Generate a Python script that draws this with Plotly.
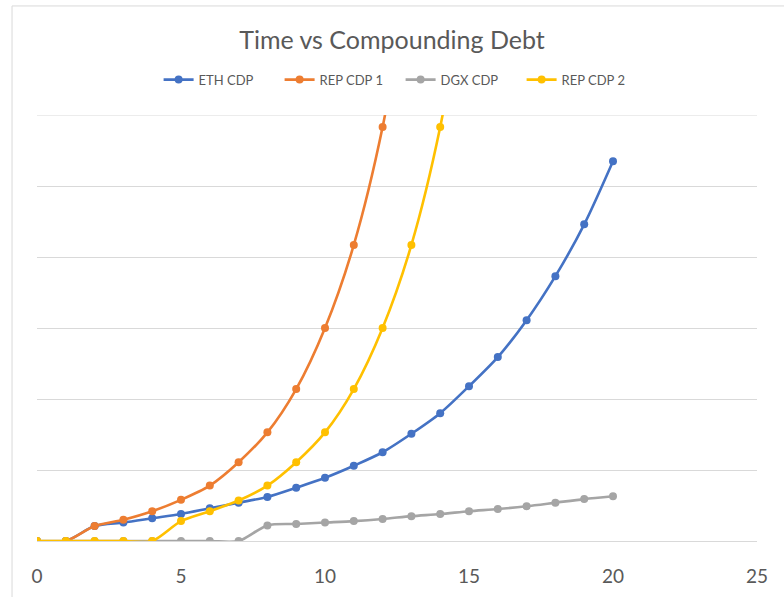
import plotly.graph_objects as go

years = list(range(0, 21))
eth_cdp = [0, 0, 0.21, 0.26, 0.32, 0.38, 0.46, 0.54, 0.62, 0.75, 0.89, 1.06, 1.25,
           1.51, 1.80, 2.18, 2.59, 3.11, 3.73, 4.46, 5.35]
rep1_x = list(range(0, 14))
rep_cdp_1 = [0, 0, 0.21, 0.30, 0.42, 0.58, 0.78, 1.11, 1.53, 2.14, 3.00, 4.17, 5.83, 8.2]
dgx_cdp = [0, 0, 0, 0, 0, 0, 0, 0, 0.22, 0.24, 0.26, 0.28, 0.31, 0.35, 0.38, 0.42,
           0.45, 0.49, 0.54, 0.59, 0.63]
rep2_x = list(range(0, 16))
rep_cdp_2 = [0, 0, 0, 0, 0, 0.28, 0.42, 0.57, 0.78, 1.11, 1.53, 2.14, 3.00, 4.17, 5.83, 8.2]

x_ticks = [0, 5, 10, 15, 20, 25]
y_max = 6

series = [
    ("ETH CDP", years, eth_cdp, "#4472C4"),
    ("REP CDP 1", rep1_x, rep_cdp_1, "#ED7D31"),
    ("DGX CDP", years, dgx_cdp, "#A5A5A5"),
    ("REP CDP 2", rep2_x, rep_cdp_2, "#FFC000"),
]

fig = go.Figure()
for name, xs, ys, col in series:
    fig.add_trace(go.Scatter(
        x=xs, y=ys, name=name, mode="lines+markers",
        line=dict(color=col, width=2.6, shape="spline", smoothing=0.8),
        marker=dict(color=col, size=8, symbol="circle"),
    ))

fig.update_layout(
    width=784, height=597,
    margin=dict(l=37, r=27, t=115, b=56),
    paper_bgcolor="white", plot_bgcolor="white",
    font=dict(family="Lato, Open Sans, sans-serif", color="#595959"),
    title=dict(text="Time vs Compounding Debt", x=0.5, xanchor="center",
               y=0.933, yanchor="middle",
               font=dict(size=25, color="#595959", family="Lato, sans-serif")),
    legend=dict(orientation="h", x=0.505, xanchor="center", y=1.083, yanchor="middle",
                font=dict(size=13, color="#595959"), itemwidth=30,
                entrywidth=76, entrywidthmode="pixels",
                bgcolor="rgba(0,0,0,0)"),
    showlegend=True,
    xaxis=dict(range=[0, 25], tickvals=x_ticks, showgrid=False, zeroline=False,
               showline=True, linecolor="#D9D9D9", linewidth=1, ticks="",
               tickfont=dict(size=19, color="#595959"), ticklabelstandoff=18,
               automargin=False),
    yaxis=dict(range=[0, y_max], dtick=1, showgrid=True, gridcolor="#D9D9D9",
               gridwidth=1, zeroline=False, showticklabels=False, ticks="",
               automargin=False),
    shapes=[
        dict(type="line", xref="paper", yref="y", x0=0, x1=1, y0=y_max, y1=y_max,
             line=dict(color="#D9D9D9", width=1), layer="below"),
        dict(type="line", xref="paper", yref="paper", x0=-0.0347, x1=-0.0347,
             y0=1.256, y1=-0.2, line=dict(color="#D9D9D9", width=1)),
        dict(type="line", xref="paper", yref="paper", x0=-0.0347, x1=1.1,
             y0=1.256, y1=1.256, line=dict(color="#D9D9D9", width=1)),
    ],
)

fig.write_html("out.html")
